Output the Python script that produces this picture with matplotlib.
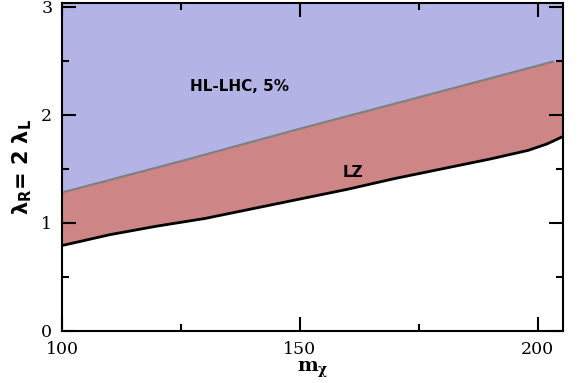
import numpy as np
import matplotlib
matplotlib.use("Agg")
import matplotlib.pyplot as plt

# HL-LHC 5% boundary (upper edge of the LZ band)
mchi_hl = [100, 125, 150, 175, 203.2]
lam_hl = [1.28, 1.57, 1.87, 2.16, 2.49]

# LZ bound
mchi_lz = [100, 110, 120, 130, 140, 150, 160, 170, 180, 190, 198, 202, 205.4]
lam_lz = [0.79, 0.89, 0.97, 1.04, 1.13, 1.22, 1.31, 1.41, 1.50, 1.59, 1.67, 1.73, 1.80]

xmin, xmax = 100, 205.4
ymin, ymax = 0, 3.03

blue = '#b3b3e6'
red = '#cd8585'

fig = plt.figure(figsize=(5.78, 3.83), dpi=100)
ax = fig.add_axes([0.1073, 0.1358, 0.8673, 0.8556])

# extend the HL-LHC line to the right edge for the fills
x_hl_ext = mchi_hl + [xmax]
y_hl_ext = lam_hl + [lam_hl[-1] + (xmax - mchi_hl[-1]) * 0.0116]

ax.fill_between(x_hl_ext, y_hl_ext, ymax, color=blue, lw=0)
xx = np.array(mchi_lz)
up = np.interp(xx, x_hl_ext, y_hl_ext)
ax.fill_between(xx, lam_lz, up, color=red, lw=0)

ax.plot(mchi_hl, lam_hl, color='#808080', lw=1.6)
ax.plot(mchi_lz, lam_lz, color='black', lw=2)

ax.text(137.4, 2.26, 'HL-LHC, 5%', fontsize=11, fontweight='bold',
        ha='center', va='center', family='DejaVu Sans')
ax.text(161.2, 1.47, 'LZ', fontsize=11, fontweight='bold',
        ha='center', va='center', family='DejaVu Sans')

ax.set_xlim(xmin, xmax)
ax.set_ylim(ymin, ymax)
ax.set_xticks([100, 150, 200])
ax.set_xticks([125, 175], minor=True)
ax.set_yticks([0, 1, 2, 3])
ax.set_yticks([0.5, 1.5, 2.5], minor=True)
ax.tick_params(which='both', direction='in', top=True, right=True, width=1.5,
               labelsize=12.5)
ax.tick_params(which='major', length=10, pad=7)
ax.tick_params(which='minor', length=5)
for lab in ax.get_xticklabels() + ax.get_yticklabels():
    lab.set_family('DejaVu Serif')
for sp in ax.spines.values():
    sp.set_linewidth(1.5)

ax.set_xlabel('m$_{\\mathregular{\\chi}}$', fontsize=14, fontweight='bold',
              family='DejaVu Serif', labelpad=1)
ax.set_ylabel('λ$_{\\mathregular{R}}$= 2 λ$_{\\mathregular{L}}$', fontsize=15,
              fontweight='bold', family='DejaVu Sans', labelpad=5)

fig.savefig('out.png', dpi=100)
